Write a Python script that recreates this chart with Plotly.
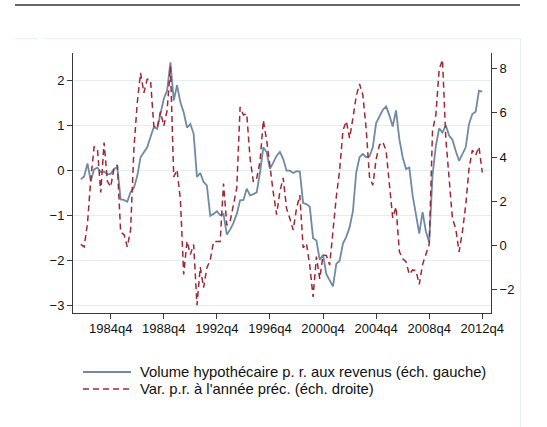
import plotly.graph_objects as go

# ---- data -------------------------------------------------------------
quarters = []
_y, _q = 1982, 3
for _ in range(122):
    quarters.append(f"{_y}q{_q}")
    _q += 1
    if _q > 4:
        _q = 1
        _y += 1

# Volume hypothécaire p. r. aux revenus (left scale)
volume_ratio = [
    -0.19, -0.13, 0.16, -0.23, 0.03, 0.07, -0.03, -0.02, -0.08, -0.07,
    0.04, 0.08, -0.64, -0.65, -0.69, -0.47, -0.38, -0.12, 0.30, 0.40,
    0.52, 0.75, 0.97, 0.93, 1.27, 1.60, 1.78, 2.41, 1.56, 1.90,
    1.52, 1.30, 0.96, 1.04, 0.82, -0.14, -0.05, -0.25, -0.33, -1.00,
    -0.96, -0.90, -0.99, -0.96, -1.42, -1.31, -1.16, -0.96, -0.66, -0.65,
    -0.40, -0.55, -0.52, -0.48, -0.04, 0.52, 0.41, 0.04, 0.18, 0.33,
    0.42, 0.26, 0.00, 0.00, -0.05, -0.01, -0.02, -0.72, -0.74, -0.80,
    -1.50, -1.55, -1.98, -1.87, -2.30, -2.42, -2.57, -2.07, -2.00, -1.62,
    -1.47, -1.26, -0.90, -0.04, 0.30, 0.37, 0.30, 0.32, 0.52, 1.06,
    1.22, 1.35, 1.43, 1.23, 0.98, 1.34, 0.70, 0.30, 0.04, 0.07,
    -0.55, -1.00, -1.40, -0.92, -1.35, -1.59, -0.10, 0.55, 0.94, 0.85,
    1.01, 0.78, 0.69, 0.44, 0.22, 0.37, 0.52, 1.04, 1.26, 1.31,
    1.78, 1.76,
]

# Var. p.r. à l'année préc. (right scale)
yoy_change = [
    0.05, -0.06, 1.0, 3.0, 4.46, 4.38, 2.4, 4.65, 2.9, 2.65,
    3.5, 3.64, 0.6, 0.5, -0.06, 0.7, 4.4, 6.45, 7.8, 6.9,
    7.52, 7.48, 5.4, 5.3, 6.05, 5.4, 6.1, 8.1, 3.1, 3.42,
    2.1, -1.3, 0.2, -0.4, 0.05, -2.69, -0.97, -1.9, -1.0, -0.65,
    0.18, 0.19, 0.18, 2.8, 0.92, 1.1, 1.9, 2.6, 6.26, 5.9,
    5.96, 3.95, 2.88, 3.03, 3.78, 5.66, 4.76, 3.5, 2.4, 1.4,
    2.45, 3.06, 1.68, 1.22, 0.7, 1.67, 2.28, -0.1, 0.1, -0.9,
    -2.32, -0.5, -1.5, -0.43, -0.45, -0.88, 0.7, 2.2, 3.4, 5.2,
    5.62, 4.85, 5.75, 6.75, 7.3, 6.8, 5.28, 3.1, 2.73, 3.9,
    4.55, 4.68, 4.3, 2.6, 1.25, 1.75, -0.27, -0.6, -0.73, -1.3,
    -1.1, -1.13, -1.75, -0.85, -0.38, 0.05, 5.2, 5.9, 7.95, 8.4,
    4.85, 3.0, 1.22, 0.77, -0.28, 0.62, 1.82, 3.48, 4.31, 4.08,
    4.46, 3.3,
]

x_tick_labels = ["1984q4", "1988q4", "1992q4", "1996q4",
                 "2000q4", "2004q4", "2008q4", "2012q4"]
left_ticks = [-3, -2, -1, 0, 1, 2]
right_ticks = [-2, 0, 2, 4, 6, 8]

legend_labels = ["Volume hypothécaire p. r. aux revenus (éch. gauche)",
                 "Var. p.r. à l'année préc. (éch. droite)"]


def qnum(s):
    return int(s[:4]) + (int(s[5]) - 1) / 4.0


x_vals = [qnum(s) for s in quarters]
x_tickvals = [qnum(s) for s in x_tick_labels]

BLUE = "#7089a5"
RED = "#9e2836"
AXIS = "#3a3a3a"
GRID = "#e4edf0"
FONT = "Liberation Sans, Arial, sans-serif"

fig = go.Figure()
fig.add_trace(go.Scatter(x=x_vals, y=volume_ratio, mode="lines",
                         line=dict(color=BLUE, width=1.8),
                         name=legend_labels[0], showlegend=False))
fig.add_trace(go.Scatter(x=x_vals, y=yoy_change, mode="lines", yaxis="y2",
                         line=dict(color=RED, width=1.5, dash="6px,4px"),
                         name=legend_labels[1], showlegend=False))

W, H = 547, 427
L, R, T, B = 73, 491, 53, 313


def px(xp):
    return (xp - L) / (R - L)


def py(yp):
    return (B - yp) / (B - T)


fig.update_layout(
    width=W, height=H,
    margin=dict(l=L, r=W - R, t=T, b=H - B, pad=0),
    paper_bgcolor="white", plot_bgcolor="white",
    font=dict(family=FONT, size=13, color="#111"),
    xaxis=dict(range=[1981.909, 2013.406], tickvals=x_tickvals,
               ticktext=x_tick_labels, showgrid=False, zeroline=False,
               showline=True, linecolor=AXIS, linewidth=1,
               ticks="outside", ticklen=5, tickcolor=AXIS,
               ticklabelstandoff=-2,
               tickfont=dict(size=13)),
    yaxis=dict(range=[-3.162, 2.616], tickvals=left_ticks,
               showgrid=True, gridcolor=GRID, gridwidth=1, zeroline=False,
               showline=True, linecolor=AXIS, linewidth=1,
               ticks="outside", ticklen=5, tickcolor=AXIS,
               tickfont=dict(size=13)),
    yaxis2=dict(range=[-3.045, 8.698], tickvals=right_ticks,
                overlaying="y", side="right", showgrid=False, zeroline=False,
                showline=True, linecolor=AXIS, linewidth=1,
                ticks="outside", ticklen=5, tickcolor=AXIS,
                tickfont=dict(size=13)),
    showlegend=False,
)

shapes = [
    # top dark rule (from the page above)
    dict(type="line", xref="paper", yref="paper", x0=px(15), x1=px(520),
         y0=py(5), y1=py(5), line=dict(color="#333", width=1.5)),
    # light frame of the graph region
    dict(type="line", xref="paper", yref="paper", x0=px(15), x1=px(38),
         y0=py(38.7), y1=py(38.7), line=dict(color="#e6eef0", width=1)),
    dict(type="line", xref="paper", yref="paper", x0=px(43), x1=px(520.7),
         y0=py(38.7), y1=py(38.7), line=dict(color="#e6eef0", width=1)),
    dict(type="line", xref="paper", yref="paper", x0=px(520.7), x1=px(520.7),
         y0=py(38.7), y1=py(427), line=dict(color="#e6eef0", width=1)),
    # legend keys
    dict(type="line", xref="paper", yref="paper", x0=px(83), x1=px(131),
         y0=py(372), y1=py(372), line=dict(color=BLUE, width=1.8)),
    dict(type="line", xref="paper", yref="paper", x0=px(83), x1=px(131),
         y0=py(389), y1=py(389), line=dict(color=RED, width=1.5, dash="6px,4px")),
]
annotations = [
    dict(xref="paper", yref="paper", x=px(138), y=py(372), text=legend_labels[0],
         xanchor="left", yanchor="middle", showarrow=False,
         font=dict(size=14.8, family=FONT, color="#111")),
    dict(xref="paper", yref="paper", x=px(138), y=py(389), text=legend_labels[1],
         xanchor="left", yanchor="middle", showarrow=False,
         font=dict(size=14.8, family=FONT, color="#111")),
]
fig.update_layout(shapes=shapes, annotations=annotations)

fig.write_html("out.html",
               config={"displayModeBar": False},
               post_script="document.body.style.margin='0px';document.body.style.overflow='hidden';")
